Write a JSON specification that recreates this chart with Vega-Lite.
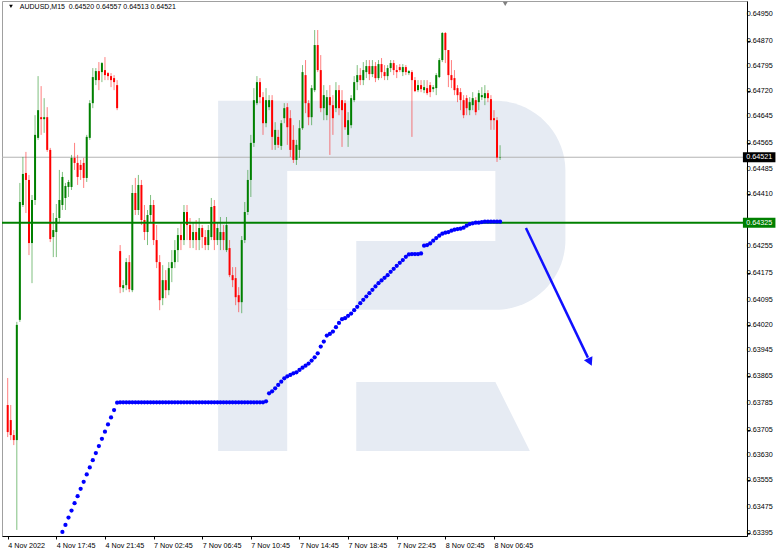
{
"$schema": "https://vega.github.io/schema/vega-lite/v6.json",
"width": 745, "height": 535,
"autosize": {"type": "none"},
"padding": {"left": 2, "top": 1, "right": 35, "bottom": 17},
"background": "white",
"config": {"view": {"stroke": "#a0a0a0", "strokeWidth": 1},
  "axis": {"grid": false, "labelFont": "Liberation Sans", "labelFontSize": 7.2, "labelColor": "#000000", "domainColor": "#000000", "tickColor": "#000000", "tickSize": 3, "labelPadding": 2}},
"datasets": {
"candles": [
{"i":0,"o":0.63779,"h":0.6386,"l":0.63683,"c":0.63698},
{"i":1,"o":0.63734,"h":0.63779,"l":0.63674,"c":0.63689},
{"i":2,"o":0.63689,"h":0.63704,"l":0.63659,"c":0.63674},
{"i":3,"o":0.63674,"h":0.64028,"l":0.63405,"c":0.64019},
{"i":4,"o":0.64034,"h":0.64444,"l":0.64028,"c":0.64387},
{"i":5,"o":0.64378,"h":0.64522,"l":0.64372,"c":0.64471},
{"i":6,"o":0.64474,"h":0.64537,"l":0.64354,"c":0.64453},
{"i":7,"o":0.64453,"h":0.64468,"l":0.64228,"c":0.64264},
{"i":8,"o":0.64264,"h":0.64408,"l":0.64144,"c":0.64393},
{"i":9,"o":0.64393,"h":0.64647,"l":0.64378,"c":0.64588},
{"i":10,"o":0.64579,"h":0.64764,"l":0.64573,"c":0.64662},
{"i":11,"o":0.64641,"h":0.64734,"l":0.64588,"c":0.64635},
{"i":12,"o":0.64635,"h":0.64698,"l":0.64594,"c":0.64641},
{"i":13,"o":0.64641,"h":0.64671,"l":0.64537,"c":0.64543},
{"i":14,"o":0.64543,"h":0.64549,"l":0.64267,"c":0.64276},
{"i":15,"o":0.64282,"h":0.64354,"l":0.64222,"c":0.64303},
{"i":16,"o":0.64297,"h":0.64381,"l":0.64222,"c":0.64339},
{"i":17,"o":0.64339,"h":0.64483,"l":0.64327,"c":0.64393},
{"i":18,"o":0.64378,"h":0.64477,"l":0.64363,"c":0.64462},
{"i":19,"o":0.64399,"h":0.64444,"l":0.64363,"c":0.64435},
{"i":20,"o":0.64432,"h":0.64453,"l":0.64402,"c":0.64447},
{"i":21,"o":0.64432,"h":0.64528,"l":0.64423,"c":0.64519},
{"i":22,"o":0.64519,"h":0.64564,"l":0.64483,"c":0.64504},
{"i":23,"o":0.64504,"h":0.64528,"l":0.64438,"c":0.64462},
{"i":24,"o":0.64498,"h":0.64513,"l":0.64453,"c":0.64483},
{"i":25,"o":0.64504,"h":0.64519,"l":0.64429,"c":0.64459},
{"i":26,"o":0.64459,"h":0.64588,"l":0.64447,"c":0.64582},
{"i":27,"o":0.64579,"h":0.64692,"l":0.64573,"c":0.64683},
{"i":28,"o":0.64683,"h":0.64788,"l":0.64668,"c":0.64761},
{"i":29,"o":0.64752,"h":0.64788,"l":0.64737,"c":0.64779},
{"i":30,"o":0.64779,"h":0.64806,"l":0.64722,"c":0.64752},
{"i":31,"o":0.64776,"h":0.64806,"l":0.64746,"c":0.64803},
{"i":32,"o":0.64782,"h":0.64821,"l":0.64752,"c":0.64767},
{"i":33,"o":0.64773,"h":0.64776,"l":0.64752,"c":0.64764},
{"i":34,"o":0.64764,"h":0.64773,"l":0.64731,"c":0.64752},
{"i":35,"o":0.64758,"h":0.64767,"l":0.64722,"c":0.64746},
{"i":36,"o":0.64737,"h":0.64752,"l":0.64662,"c":0.64668},
{"i":37,"o":0.6424,"h":0.64258,"l":0.64114,"c":0.64132},
{"i":38,"o":0.64129,"h":0.64153,"l":0.64117,"c":0.64138},
{"i":39,"o":0.64138,"h":0.64219,"l":0.64123,"c":0.64207},
{"i":40,"o":0.64207,"h":0.64228,"l":0.64117,"c":0.64126},
{"i":41,"o":0.64123,"h":0.64438,"l":0.64117,"c":0.64414},
{"i":42,"o":0.64414,"h":0.64459,"l":0.64348,"c":0.64363},
{"i":43,"o":0.64363,"h":0.64468,"l":0.64348,"c":0.64438},
{"i":44,"o":0.64438,"h":0.64453,"l":0.64318,"c":0.64333},
{"i":45,"o":0.64333,"h":0.64378,"l":0.64273,"c":0.64297},
{"i":46,"o":0.64297,"h":0.64363,"l":0.64258,"c":0.64348},
{"i":47,"o":0.64348,"h":0.64408,"l":0.64327,"c":0.64378},
{"i":48,"o":0.64378,"h":0.64393,"l":0.64258,"c":0.64273},
{"i":49,"o":0.64273,"h":0.64318,"l":0.64189,"c":0.64207},
{"i":50,"o":0.64207,"h":0.64228,"l":0.64063,"c":0.64093},
{"i":51,"o":0.64099,"h":0.64198,"l":0.64078,"c":0.64153},
{"i":52,"o":0.64153,"h":0.64183,"l":0.64099,"c":0.64123},
{"i":53,"o":0.64123,"h":0.64207,"l":0.64108,"c":0.64189},
{"i":54,"o":0.64189,"h":0.64243,"l":0.64147,"c":0.64207},
{"i":55,"o":0.64207,"h":0.64273,"l":0.64189,"c":0.64243},
{"i":56,"o":0.64243,"h":0.64309,"l":0.64207,"c":0.64288},
{"i":57,"o":0.64288,"h":0.64327,"l":0.64243,"c":0.64273},
{"i":58,"o":0.64273,"h":0.64378,"l":0.64258,"c":0.64357},
{"i":59,"o":0.64357,"h":0.64378,"l":0.64273,"c":0.64318},
{"i":60,"o":0.64318,"h":0.64339,"l":0.64249,"c":0.64273},
{"i":61,"o":0.64273,"h":0.64327,"l":0.64249,"c":0.64297},
{"i":62,"o":0.64297,"h":0.64333,"l":0.64243,"c":0.64273},
{"i":63,"o":0.64273,"h":0.64339,"l":0.64243,"c":0.64309},
{"i":64,"o":0.64309,"h":0.64318,"l":0.64249,"c":0.64282},
{"i":65,"o":0.64282,"h":0.64303,"l":0.64243,"c":0.64258},
{"i":66,"o":0.64258,"h":0.64318,"l":0.64243,"c":0.64303},
{"i":67,"o":0.64282,"h":0.64399,"l":0.64273,"c":0.64372},
{"i":68,"o":0.64375,"h":0.64393,"l":0.64243,"c":0.64273},
{"i":69,"o":0.64273,"h":0.64327,"l":0.64258,"c":0.64309},
{"i":70,"o":0.64273,"h":0.64342,"l":0.64243,"c":0.64297},
{"i":71,"o":0.64297,"h":0.64318,"l":0.64243,"c":0.64273},
{"i":72,"o":0.64243,"h":0.64342,"l":0.64237,"c":0.64318},
{"i":73,"o":0.64249,"h":0.64273,"l":0.64162,"c":0.64168},
{"i":74,"o":0.64168,"h":0.64192,"l":0.64132,"c":0.64153},
{"i":75,"o":0.64159,"h":0.64192,"l":0.64078,"c":0.64102},
{"i":76,"o":0.64108,"h":0.64132,"l":0.64057,"c":0.64087},
{"i":77,"o":0.64087,"h":0.64285,"l":0.64054,"c":0.64273},
{"i":78,"o":0.64273,"h":0.64387,"l":0.64264,"c":0.64357},
{"i":79,"o":0.64357,"h":0.64483,"l":0.64348,"c":0.64453},
{"i":80,"o":0.64453,"h":0.64588,"l":0.64402,"c":0.64564},
{"i":81,"o":0.64564,"h":0.64728,"l":0.64552,"c":0.64692},
{"i":82,"o":0.64683,"h":0.64764,"l":0.64677,"c":0.64746},
{"i":83,"o":0.64746,"h":0.64758,"l":0.64683,"c":0.64701},
{"i":84,"o":0.64701,"h":0.64716,"l":0.64588,"c":0.64623},
{"i":85,"o":0.64623,"h":0.64728,"l":0.64611,"c":0.64692},
{"i":86,"o":0.64671,"h":0.64707,"l":0.64662,"c":0.64692},
{"i":87,"o":0.64692,"h":0.64707,"l":0.64543,"c":0.64582},
{"i":88,"o":0.64558,"h":0.64626,"l":0.64543,"c":0.64603},
{"i":89,"o":0.64582,"h":0.64603,"l":0.64549,"c":0.64558},
{"i":90,"o":0.64555,"h":0.64632,"l":0.64543,"c":0.64623},
{"i":91,"o":0.64638,"h":0.64683,"l":0.64623,"c":0.64668},
{"i":92,"o":0.64671,"h":0.64683,"l":0.64558,"c":0.64611},
{"i":93,"o":0.64638,"h":0.64662,"l":0.64522,"c":0.64543},
{"i":94,"o":0.64573,"h":0.64617,"l":0.64504,"c":0.64513},
{"i":95,"o":0.64513,"h":0.64573,"l":0.64498,"c":0.64558},
{"i":96,"o":0.64543,"h":0.64632,"l":0.64519,"c":0.64608},
{"i":97,"o":0.64608,"h":0.64797,"l":0.64603,"c":0.64776},
{"i":98,"o":0.64767,"h":0.64812,"l":0.64653,"c":0.64683},
{"i":99,"o":0.64683,"h":0.64692,"l":0.64617,"c":0.64641},
{"i":100,"o":0.64641,"h":0.64737,"l":0.64617,"c":0.64728},
{"i":101,"o":0.64722,"h":0.64902,"l":0.64716,"c":0.64857},
{"i":102,"o":0.64857,"h":0.64902,"l":0.64776,"c":0.64782},
{"i":103,"o":0.64782,"h":0.64827,"l":0.64656,"c":0.64668},
{"i":104,"o":0.64668,"h":0.64737,"l":0.64632,"c":0.64707},
{"i":105,"o":0.64647,"h":0.64722,"l":0.64632,"c":0.64701},
{"i":106,"o":0.64701,"h":0.64737,"l":0.64528,"c":0.64677},
{"i":107,"o":0.64677,"h":0.64707,"l":0.64588,"c":0.64638},
{"i":108,"o":0.64668,"h":0.64746,"l":0.64656,"c":0.64722},
{"i":109,"o":0.64722,"h":0.64737,"l":0.64647,"c":0.64668},
{"i":110,"o":0.64692,"h":0.64722,"l":0.64552,"c":0.64662},
{"i":111,"o":0.64683,"h":0.64692,"l":0.64603,"c":0.64611},
{"i":112,"o":0.64588,"h":0.64656,"l":0.64552,"c":0.64632},
{"i":113,"o":0.64617,"h":0.64707,"l":0.64608,"c":0.64698},
{"i":114,"o":0.64692,"h":0.64764,"l":0.64686,"c":0.64746},
{"i":115,"o":0.64746,"h":0.64797,"l":0.64722,"c":0.64767},
{"i":116,"o":0.64767,"h":0.64788,"l":0.64737,"c":0.64752},
{"i":117,"o":0.64752,"h":0.64806,"l":0.64737,"c":0.64782},
{"i":118,"o":0.64776,"h":0.64812,"l":0.64758,"c":0.64794},
{"i":119,"o":0.64794,"h":0.64812,"l":0.64752,"c":0.6477},
{"i":120,"o":0.6477,"h":0.64812,"l":0.64761,"c":0.64794},
{"i":121,"o":0.64794,"h":0.64806,"l":0.64746,"c":0.64758},
{"i":122,"o":0.64758,"h":0.64812,"l":0.64752,"c":0.648},
{"i":123,"o":0.648,"h":0.64818,"l":0.64758,"c":0.64776},
{"i":124,"o":0.64776,"h":0.64797,"l":0.64752,"c":0.64764},
{"i":125,"o":0.64764,"h":0.64797,"l":0.64752,"c":0.64788},
{"i":126,"o":0.64788,"h":0.64812,"l":0.64776,"c":0.64803},
{"i":127,"o":0.64803,"h":0.64812,"l":0.64767,"c":0.64782},
{"i":128,"o":0.64782,"h":0.64797,"l":0.64758,"c":0.64776},
{"i":129,"o":0.64791,"h":0.648,"l":0.64776,"c":0.64782},
{"i":130,"o":0.64776,"h":0.648,"l":0.64764,"c":0.64791},
{"i":131,"o":0.64791,"h":0.64797,"l":0.64767,"c":0.64776},
{"i":132,"o":0.64773,"h":0.64782,"l":0.64767,"c":0.64779},
{"i":133,"o":0.64776,"h":0.64782,"l":0.64582,"c":0.64752},
{"i":134,"o":0.64752,"h":0.64761,"l":0.64716,"c":0.64719},
{"i":135,"o":0.64722,"h":0.64752,"l":0.64716,"c":0.64737},
{"i":136,"o":0.64737,"h":0.64752,"l":0.64716,"c":0.64725},
{"i":137,"o":0.64722,"h":0.64752,"l":0.64713,"c":0.64731},
{"i":138,"o":0.64728,"h":0.64752,"l":0.64707,"c":0.64713},
{"i":139,"o":0.64737,"h":0.64746,"l":0.64701,"c":0.64716},
{"i":140,"o":0.64725,"h":0.64737,"l":0.64716,"c":0.64731},
{"i":141,"o":0.64728,"h":0.64773,"l":0.64707,"c":0.64767},
{"i":142,"o":0.64761,"h":0.64818,"l":0.64758,"c":0.64812},
{"i":143,"o":0.64812,"h":0.64896,"l":0.64806,"c":0.64893},
{"i":144,"o":0.64893,"h":0.64896,"l":0.64803,"c":0.64842},
{"i":145,"o":0.64842,"h":0.64842,"l":0.64731,"c":0.64767},
{"i":146,"o":0.64767,"h":0.64812,"l":0.64728,"c":0.64752},
{"i":147,"o":0.64758,"h":0.64782,"l":0.64707,"c":0.64722},
{"i":148,"o":0.64728,"h":0.64737,"l":0.64686,"c":0.64707},
{"i":149,"o":0.64716,"h":0.64728,"l":0.64662,"c":0.64692},
{"i":150,"o":0.64692,"h":0.64707,"l":0.64638,"c":0.64647},
{"i":151,"o":0.64698,"h":0.64707,"l":0.64647,"c":0.64668},
{"i":152,"o":0.64662,"h":0.64701,"l":0.64647,"c":0.64686},
{"i":153,"o":0.64677,"h":0.64716,"l":0.64662,"c":0.64698},
{"i":154,"o":0.64692,"h":0.64701,"l":0.64647,"c":0.64656},
{"i":155,"o":0.64686,"h":0.64722,"l":0.64662,"c":0.64713},
{"i":156,"o":0.64701,"h":0.64731,"l":0.64692,"c":0.64707},
{"i":157,"o":0.64698,"h":0.64737,"l":0.64677,"c":0.64713},
{"i":158,"o":0.64713,"h":0.64722,"l":0.64686,"c":0.64698},
{"i":159,"o":0.64695,"h":0.64707,"l":0.64603,"c":0.64632},
{"i":160,"o":0.64638,"h":0.64662,"l":0.64603,"c":0.64632},
{"i":161,"o":0.64632,"h":0.64641,"l":0.64507,"c":0.6452},
{"i":162,"o":0.6452,"h":0.64557,"l":0.64513,"c":0.64521}
],
"dots": [
{"i":17,"p":0.63377},{"i":18,"p":0.63399},{"i":19,"p":0.6342},{"i":20,"p":0.63442},{"i":21,"p":0.63463},{"i":22,"p":0.63485},{"i":23,"p":0.63506},{"i":24,"p":0.63528},{"i":25,"p":0.63549},{"i":26,"p":0.63571},{"i":27,"p":0.63592},{"i":28,"p":0.63614},{"i":29,"p":0.63635},{"i":30,"p":0.63656},{"i":31,"p":0.63678},{"i":32,"p":0.63699},{"i":33,"p":0.63721},{"i":34,"p":0.63742},{"i":35,"p":0.63764},{"i":36,"p":0.63786},
{"i":37,"p":0.63787},{"i":38,"p":0.63787},{"i":39,"p":0.63787},{"i":40,"p":0.63787},{"i":41,"p":0.63787},{"i":42,"p":0.63787},{"i":43,"p":0.63787},{"i":44,"p":0.63787},{"i":45,"p":0.63787},{"i":46,"p":0.63787},{"i":47,"p":0.63787},{"i":48,"p":0.63787},{"i":49,"p":0.63787},{"i":50,"p":0.63787},{"i":51,"p":0.63787},{"i":52,"p":0.63787},{"i":53,"p":0.63787},{"i":54,"p":0.63787},{"i":55,"p":0.63787},{"i":56,"p":0.63787},{"i":57,"p":0.63787},{"i":58,"p":0.63787},{"i":59,"p":0.63787},{"i":60,"p":0.63787},{"i":61,"p":0.63787},{"i":62,"p":0.63787},{"i":63,"p":0.63787},{"i":64,"p":0.63787},{"i":65,"p":0.63787},{"i":66,"p":0.63787},{"i":67,"p":0.63787},{"i":68,"p":0.63787},{"i":69,"p":0.63787},{"i":70,"p":0.63787},{"i":71,"p":0.63787},{"i":72,"p":0.63787},{"i":73,"p":0.63787},{"i":74,"p":0.63787},{"i":75,"p":0.63787},{"i":76,"p":0.63787},{"i":77,"p":0.63787},{"i":78,"p":0.63787},{"i":79,"p":0.63787},{"i":80,"p":0.63787},{"i":81,"p":0.63787},{"i":82,"p":0.63787},{"i":83,"p":0.63787},{"i":84,"p":0.63787},
{"i":85,"p":0.6379},{"i":86,"p":0.63814},{"i":87,"p":0.6382},{"i":88,"p":0.63829},{"i":89,"p":0.63839},{"i":90,"p":0.63849},{"i":91,"p":0.63859},{"i":92,"p":0.63865},{"i":93,"p":0.63869},{"i":94,"p":0.63874},{"i":95,"p":0.63877},{"i":96,"p":0.63884},{"i":97,"p":0.63891},{"i":98,"p":0.63897},{"i":99,"p":0.63903},{"i":100,"p":0.63912},{"i":101,"p":0.63922},{"i":102,"p":0.63934},{"i":103,"p":0.63954},{"i":104,"p":0.63969},{"i":105,"p":0.63987},{"i":106,"p":0.63992},{"i":107,"p":0.63999},{"i":108,"p":0.64012},{"i":109,"p":0.64025},{"i":110,"p":0.64036},{"i":111,"p":0.64039},{"i":112,"p":0.64046},{"i":113,"p":0.64053},{"i":114,"p":0.64063},{"i":115,"p":0.64073},{"i":116,"p":0.64084},{"i":117,"p":0.64094},{"i":118,"p":0.64104},{"i":119,"p":0.64114},{"i":120,"p":0.64124},{"i":121,"p":0.64134},{"i":122,"p":0.64144},{"i":123,"p":0.64152},{"i":124,"p":0.6416},{"i":125,"p":0.64168},{"i":126,"p":0.64178},{"i":127,"p":0.64187},{"i":128,"p":0.64196},{"i":129,"p":0.64205},{"i":130,"p":0.64213},{"i":131,"p":0.64223},{"i":132,"p":0.6423},{"i":133,"p":0.64231},{"i":134,"p":0.64231},{"i":135,"p":0.64231},{"i":136,"p":0.64233},{"i":137,"p":0.64256},{"i":138,"p":0.64258},{"i":139,"p":0.64263},{"i":140,"p":0.64271},{"i":141,"p":0.64279},{"i":142,"p":0.64286},{"i":143,"p":0.64292},{"i":144,"p":0.64295},{"i":145,"p":0.64297},{"i":146,"p":0.64301},{"i":147,"p":0.64304},{"i":148,"p":0.64306},{"i":149,"p":0.64307},{"i":150,"p":0.6431},{"i":151,"p":0.64316},{"i":152,"p":0.64321},{"i":153,"p":0.64323},{"i":154,"p":0.64325},{"i":155,"p":0.64325},{"i":156,"p":0.64327},{"i":157,"p":0.64328},{"i":158,"p":0.64328},{"i":159,"p":0.64328},{"i":160,"p":0.64328},{"i":161,"p":0.64328},{"i":162,"p":0.64328}
],
"ticks": [{"v":0.6495},{"v":0.6487},{"v":0.64795},{"v":0.6472},{"v":0.64645},{"v":0.64565},{"v":0.64485},{"v":0.6441},{"v":0.64255},{"v":0.64175},{"v":0.64095},{"v":0.6402},{"v":0.63945},{"v":0.63865},{"v":0.63785},{"v":0.63705},{"v":0.6363},{"v":0.63555},{"v":0.63475},{"v":0.63395}]
},
"layer": [
{"data": {"values": [{}]},
 "mark": {"type": "rect", "color": "#e6ebf3", "cornerRadiusTopRight": 70, "cornerRadiusBottomRight": 70},
 "encoding": {
  "x": {"datum": 69.23, "type": "quantitative", "scale": {"domain": [-0.23, 241.6], "nice": false, "zero": false},
        "axis": {"orient": "bottom", "title": null, "values": [0,16,32,48,64,80,96,112,128,144,160],
                 "labelExpr": "['4 Nov 2022','4 Nov 17:45','4 Nov 21:45','7 Nov 02:45','7 Nov 06:45','7 Nov 10:45','7 Nov 14:45','7 Nov 18:45','7 Nov 22:45','8 Nov 02:45','8 Nov 06:45'][round(datum.value/16)]",
                 "labelAlign": "left", "labelDx": -1, "labelOverlap": false, "labelFlush": false, "labelBaseline": "top"}},
  "x2": {"datum": 183.5},
  "y": {"datum": 0.6469, "type": "quantitative", "scale": {"domain": [0.633868, 0.649889], "nice": false, "zero": false},
        "axis": {"orient": "right", "title": null, "labels": false,
                 "values": [0.6495,0.6487,0.64795,0.6472,0.64645,0.64565,0.64485,0.6441,0.64255,0.64175,0.64095,0.6402,0.63945,0.63865,0.63785,0.63705,0.6363,0.63555,0.63475,0.63395]}},
  "y2": {"datum": 0.64064}}},
{"data": {"values": [{}]}, "mark": {"type": "rect", "color": "#ffffff"},
 "encoding": {"x": {"datum": 91.96, "type": "quantitative"}, "x2": {"datum": 160.45}, "y": {"datum": 0.6448, "type": "quantitative"}, "y2": {"datum": 0.6427}}},
{"data": {"values": [{}]}, "mark": {"type": "rect", "color": "#ffffff"},
 "encoding": {"x": {"datum": 91.96, "type": "quantitative"}, "x2": {"datum": 114.68}, "y": {"datum": 0.64275, "type": "quantitative"}, "y2": {"datum": 0.64064}}},
{"data": {"values": [{}]}, "mark": {"type": "rect", "color": "#e6ebf3"},
 "encoding": {"x": {"datum": 69.23, "type": "quantitative"}, "x2": {"datum": 91.96}, "y": {"datum": 0.6407, "type": "quantitative"}, "y2": {"datum": 0.63641}}},
{"data": {"values": [{"p": 0.63848, "a": 114.68, "b": 160.45}, {"p": 0.63641, "a": 114.68, "b": 171.8}]},
 "mark": {"type": "area", "orient": "horizontal", "color": "#e6ebf3"},
 "encoding": {"y": {"field": "p", "type": "quantitative"}, "x": {"field": "a", "type": "quantitative"}, "x2": {"field": "b"}}},
{"data": {"values": [{}]}, "mark": {"type": "rule", "color": "#b4b4b4", "strokeWidth": 1},
 "encoding": {"y": {"datum": 0.64521, "type": "quantitative"}}},
{"data": {"name": "candles"}, "mark": {"type": "rule", "strokeWidth": 1, "opacity": 0.5},
 "encoding": {"x": {"field": "i", "type": "quantitative"}, "y": {"field": "l", "type": "quantitative"}, "y2": {"field": "h"},
  "color": {"condition": {"test": "datum.c >= datum.o", "value": "#008000"}, "value": "#ff0000"}}},
{"data": {"name": "candles"}, "mark": {"type": "bar", "size": 2, "orient": "vertical"},
 "encoding": {"x": {"field": "i", "type": "quantitative"}, "y": {"field": "o", "type": "quantitative"}, "y2": {"field": "c"},
  "color": {"condition": {"test": "datum.c >= datum.o", "value": "#008000"}, "value": "#ff0000"}}},
{"data": {"values": [{}]}, "mark": {"type": "rule", "color": "#008000", "strokeWidth": 2},
 "encoding": {"y": {"datum": 0.64325, "type": "quantitative"}}},
{"data": {"name": "dots"}, "mark": {"type": "point", "filled": true, "size": 18, "color": "#0000ff", "opacity": 1, "clip": true},
 "encoding": {"x": {"field": "i", "type": "quantitative"}, "y": {"field": "p", "type": "quantitative"}}},
{"data": {"values": [{"i": 170.51, "p": 0.64309}, {"i": 190.9, "p": 0.63921}]},
 "mark": {"type": "line", "color": "#1010ff", "strokeWidth": 2.5},
 "encoding": {"x": {"field": "i", "type": "quantitative"}, "y": {"field": "p", "type": "quantitative"}}},
{"data": {"values": [{}]}, "mark": {"type": "point", "shape": "triangle-up", "angle": 154, "size": 90, "filled": true, "color": "#1010ff", "opacity": 1},
 "encoding": {"x": {"datum": 191.58, "type": "quantitative"}, "y": {"datum": 0.63908, "type": "quantitative"}}},
{"data": {"name": "ticks"},
 "mark": {"type": "text", "align": "left", "baseline": "middle", "fontSize": 7.2, "font": "Liberation Sans", "color": "#000000"},
 "encoding": {"x": {"datum": 243.2, "type": "quantitative"}, "y": {"field": "v", "type": "quantitative"}, "text": {"field": "v", "type": "quantitative", "format": ".5f"}}},
{"data": {"values": [{}]}, "mark": {"type": "rect", "color": "#000000"},
 "encoding": {"x": {"datum": 241.9, "type": "quantitative"}, "x2": {"datum": 252.6}, "y": {"datum": 0.64536, "type": "quantitative"}, "y2": {"datum": 0.64506}}},
{"data": {"values": [{}]}, "mark": {"type": "rect", "color": "#008000"},
 "encoding": {"x": {"datum": 241.9, "type": "quantitative"}, "x2": {"datum": 252.6}, "y": {"datum": 0.6434, "type": "quantitative"}, "y2": {"datum": 0.6431}}},
{"data": {"values": [{"price": 0.64521}, {"price": 0.64325}]},
 "mark": {"type": "text", "color": "#ffffff", "fontSize": 7.2, "font": "Liberation Sans", "align": "center", "baseline": "middle"},
 "encoding": {"x": {"datum": 247.25, "type": "quantitative"}, "y": {"field": "price", "type": "quantitative"}, "text": {"field": "price", "type": "quantitative", "format": ".5f"}}},
{"data": {"values": [{}]}, "mark": {"type": "point", "shape": "triangle-down", "size": 14, "filled": true, "color": "#000000", "opacity": 1},
 "encoding": {"x": {"datum": 1.07, "type": "quantitative"}, "y": {"datum": 0.64973, "type": "quantitative"}}},
{"data": {"values": [{"t": "AUDUSD,M15\u00a0 0.64520 0.64557 0.64513 0.64521"}]},
 "mark": {"type": "text", "align": "left", "baseline": "middle", "fontSize": 7.0, "font": "Liberation Sans", "color": "#000000"},
 "encoding": {"x": {"datum": 3.99, "type": "quantitative"}, "y": {"datum": 0.64971, "type": "quantitative"}, "text": {"field": "t"}}},
{"data": {"values": [{}]}, "mark": {"type": "point", "shape": "triangle-down", "size": 24, "filled": true, "color": "#808080", "opacity": 1},
 "encoding": {"x": {"datum": 163.7, "type": "quantitative"}, "y": {"datum": 0.6498, "type": "quantitative"}}}
]
}
